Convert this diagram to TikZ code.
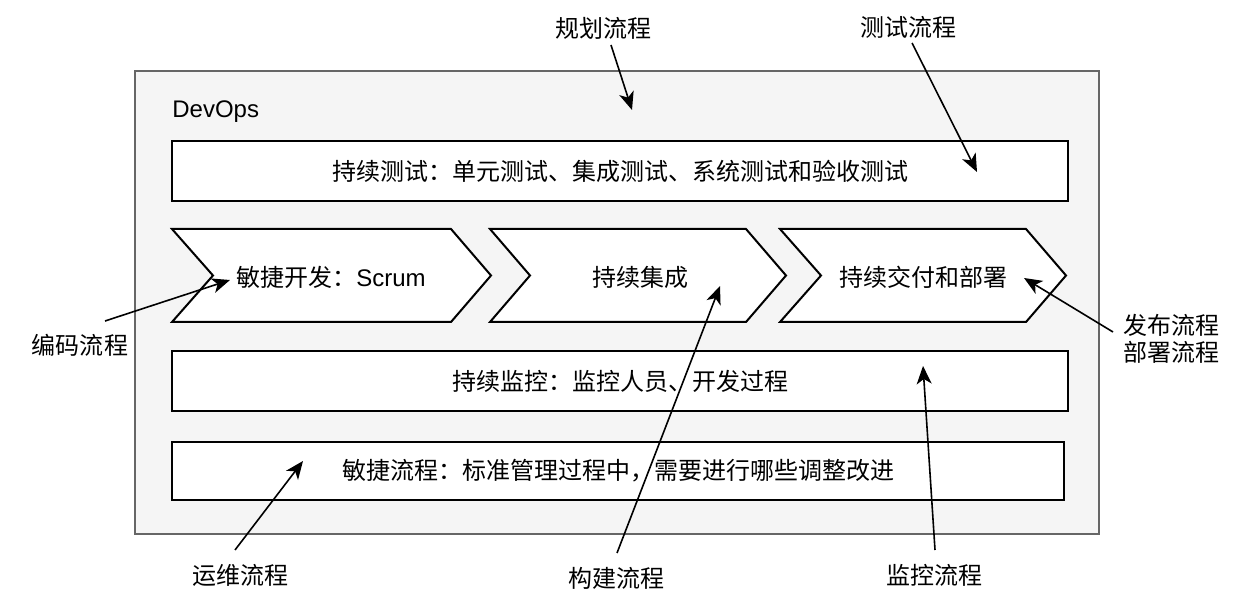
\documentclass[tikz,border=0pt]{standalone}
\usepackage{fontspec}
\setmainfont{Noto Sans CJK SC}
\newfontfamily\lat{Liberation Sans}
\usetikzlibrary{arrows.meta}
\definecolor{outerfill}{HTML}{F5F5F5}
\definecolor{outerline}{HTML}{666666}
\tikzset{
  boxrow/.style={draw=black, fill=white, line width=1pt, minimum width=448pt, minimum height=30pt, inner sep=0pt, font=\fontsize{12pt}{14pt}\selectfont},
  chev/.style={draw=black, fill=white, line width=1pt, line join=miter},
  txt/.style={font=\fontsize{12pt}{14pt}\selectfont, inner sep=0pt, align=center},
  arr/.style={draw=black, line width=0.8pt, -{Stealth[length=9pt,width=7.5pt,inset=2.5pt]}},
}
\begin{document}
\begin{tikzpicture}[x=0.5pt,y=-0.5pt]
\useasboundingbox (0,0) rectangle (1246,608);
% outer container
\node[draw=outerline, fill=outerfill, line width=1pt, minimum width=482pt, minimum height=231.5pt, inner sep=0pt] (outer) at (617,302.5) {};
\node[txt, anchor=west] (devops) at (172,112) {\lat DevOps};
% rows
\node[boxrow] (test) at (620,171) {持续测试：单元测试、集成测试、系统测试和验收测试};
\node[boxrow] (mon) at (620,381.5) {持续监控：监控人员、开发过程};
\node[boxrow, minimum width=446pt, minimum height=29pt] (agile) at (618,471) {敏捷流程：标准管理过程中，需要进行哪些调整改进};
% chevrons
\draw[chev] (172,229) -- (451,229) -- (491,275.5) -- (451,322) -- (172,322) -- (213,275.5) -- cycle;
\draw[chev] (490,229) -- (746,229) -- (786,275.5) -- (746,322) -- (490,322) -- (530,275.5) -- cycle;
\draw[chev] (780,229) -- (1026,229) -- (1066,275.5) -- (1026,322) -- (780,322) -- (821,275.5) -- cycle;
\node[txt] (dev) at (331,277) {敏捷开发：{\lat Scrum}};
\node[txt] (ci) at (640,277) {持续集成};
\node[txt] (cd) at (923,277) {持续交付和部署};
% outside labels
\node[txt] (plan) at (603,28) {规划流程};
\node[txt] (testp) at (908,27) {测试流程};
\node[txt] (code) at (80,345) {编码流程};
\node[txt, font=\fontsize{12pt}{13.5pt}\selectfont] (rel) at (1171,339) {发布流程\\部署流程};
\node[txt] (ops) at (240,575) {运维流程};
\node[txt] (build) at (616,578) {构建流程};
\node[txt] (monp) at (934,575) {监控流程};
% arrow ends
\coordinate (plant) at (611,45);   \coordinate (planh) at (632,110);
\coordinate (testt) at (912,43);   \coordinate (testh) at (977,172);
\coordinate (codet) at (105,321);  \coordinate (codeh) at (230,280);
\coordinate (relt) at (1113,332);  \coordinate (relh) at (1024,278);
\coordinate (opst) at (235,550);   \coordinate (opsh) at (303,461);
\coordinate (buildt) at (617,553); \coordinate (buildh) at (720,286);
\coordinate (mont) at (935,550);   \coordinate (monh) at (923,366);
\draw[arr] (plant) -- (planh);
\draw[arr] (testt) -- (testh);
\draw[arr] (codet) -- (codeh);
\draw[arr] (relt) -- (relh);
\draw[arr] (opst) -- (opsh);
\draw[arr] (buildt) -- (buildh);
\draw[arr] (mont) -- (monh);
\end{tikzpicture}
\end{document}
